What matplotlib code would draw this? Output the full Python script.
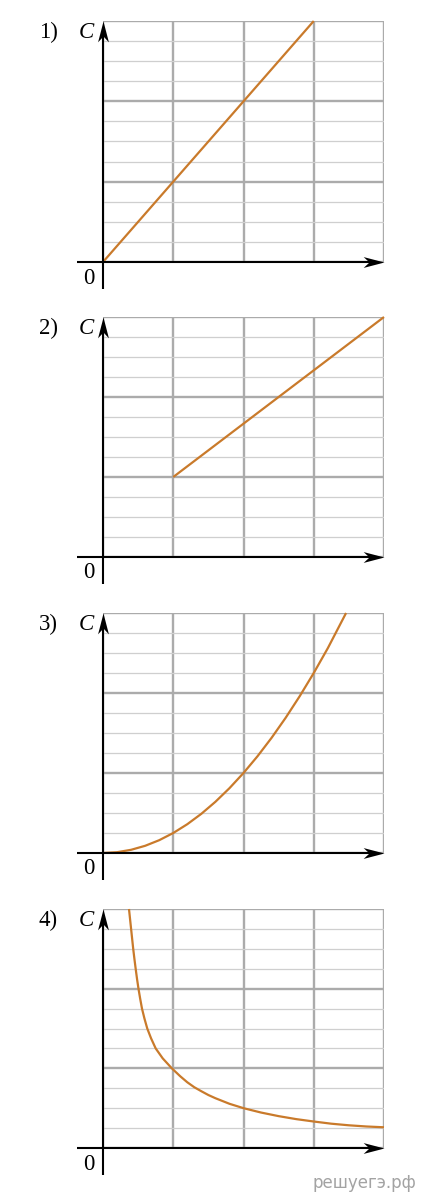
import matplotlib
matplotlib.use("Agg")
import matplotlib.pyplot as plt
from matplotlib.path import Path

# ---- data (x in grid cells, y in minor grid rows) ----
labels = ["1)", "2)", "3)", "4)"]

x1 = [0, 3]
y1 = [0, 12]

x2 = [1, 4]
y2 = [4, 12]

x3 = [0, 0.2, 0.4, 0.6, 0.8, 1.0, 1.2, 1.4, 1.6, 1.8, 2.0, 2.2, 2.4, 2.6, 2.8, 3.0, 3.2, 3.46]
y3 = [0, 0.04, 0.16, 0.36, 0.64, 1.0, 1.44, 1.96, 2.56, 3.24, 4.0, 4.84, 5.76, 6.76, 7.84,
      9.0, 10.24, 12.0]

x4 = [0.37, 0.385, 0.40, 0.415, 0.43, 0.447, 0.465, 0.484, 0.505, 0.529, 0.555, 0.59,
      0.63, 0.685, 0.75, 0.85, 0.98, 1.1, 1.2, 1.3, 1.4, 1.5, 1.6, 1.8, 2.0, 2.25, 2.5,
      2.75, 3.0, 3.25, 3.5, 3.75, 4.0]
y4 = [12.0, 11.5, 11.0, 10.5, 10.0, 9.5, 9.0, 8.5, 8.0, 7.5, 7.0, 6.5,
      6.0, 5.5, 5.0, 4.5, 4.0, 3.6, 3.3, 3.05, 2.85, 2.66, 2.5, 2.22, 2.0, 1.78, 1.6,
      1.45, 1.33, 1.22, 1.14, 1.08, 1.04]

series = [(x1, y1), (x2, y2), (x3, y3), (x4, y4)]

# ---- layout ----
W, H = 428, 1200
fig = plt.figure(figsize=(W / 100, H / 100), dpi=100)

origins = [262, 557, 853, 1148]
tops = [21, 317, 613, 909]
left_px, right_px = 103, 384

curve_color = "#c97a2b"
serif = ["Liberation Serif", "DejaVu Serif"]

# stealth arrowhead markers (tip at marker centre)
head_right = Path([(0, 0), (-1, 0.26), (-0.72, 0), (-1, -0.26), (0, 0)],
                  [Path.MOVETO, Path.LINETO, Path.LINETO, Path.LINETO, Path.CLOSEPOLY])
head_up = Path([(0, 0), (0.26, -1), (0, -0.72), (-0.26, -1), (0, 0)],
               [Path.MOVETO, Path.LINETO, Path.LINETO, Path.LINETO, Path.CLOSEPOLY])

for i in range(4):
    y0, yt = origins[i], tops[i]
    ax = fig.add_axes([left_px / W, 1 - y0 / H, (right_px - left_px) / W, (y0 - yt) / H])
    ax.set_xlim(0, 4)
    ax.set_ylim(0, 12)
    for s in ax.spines.values():
        s.set_visible(False)
    ax.set_xticks([0, 1, 2, 3, 4])
    ax.set_yticks([0, 4, 8, 12])
    ax.set_yticks(list(range(13)), minor=True)
    ax.set_xticks([], minor=True)
    ax.tick_params(which="both", length=0, labelbottom=False, labelleft=False)
    ax.grid(which="minor", axis="y", color="#cfcfcf", lw=0.9, zorder=0)
    ax.grid(which="major", color="#ababab", lw=1.7, zorder=1)
    ax.set_axisbelow(True)

    xs, ys = series[i]
    ax.plot(xs, ys, color=curve_color, lw=1.6, zorder=3, clip_on=False,
            solid_capstyle="butt", solid_joinstyle="round")

    # axes with arrows
    ax.plot([-0.37, 3.9], [0, 0], color="black", lw=1.5, zorder=5, clip_on=False,
            solid_capstyle="butt")
    ax.plot([0, 0], [-1.35, 11.6], color="black", lw=1.5, zorder=5, clip_on=False,
            solid_capstyle="butt")
    ax.plot([4.0], [0], marker=head_right, markersize=30, color="black",
            markeredgewidth=0, zorder=6, clip_on=False)
    ax.plot([0], [12.0], marker=head_up, markersize=30, color="black",
            markeredgewidth=0, zorder=6, clip_on=False)

    # texts
    fig.text(48 / W, 1 - (yt + 11) / H, labels[i], fontsize=16.5, family=serif,
             ha="center", va="center")
    fig.text(86 / W, 1 - (yt + 12) / H, "C", fontsize=16.5, family=serif, style="italic",
             ha="center", va="center")
    fig.text(89 / W, 1 - (y0 + 16) / H, "0", fontsize=16.5, family=serif,
             ha="center", va="center")

fig.text(364 / W, 1 - 1183 / H, "решуегэ.рф", fontsize=12, color="#a3a3a3",
         family=["DejaVu Sans"], ha="center", va="center")

fig.savefig("out.png", dpi=100)
